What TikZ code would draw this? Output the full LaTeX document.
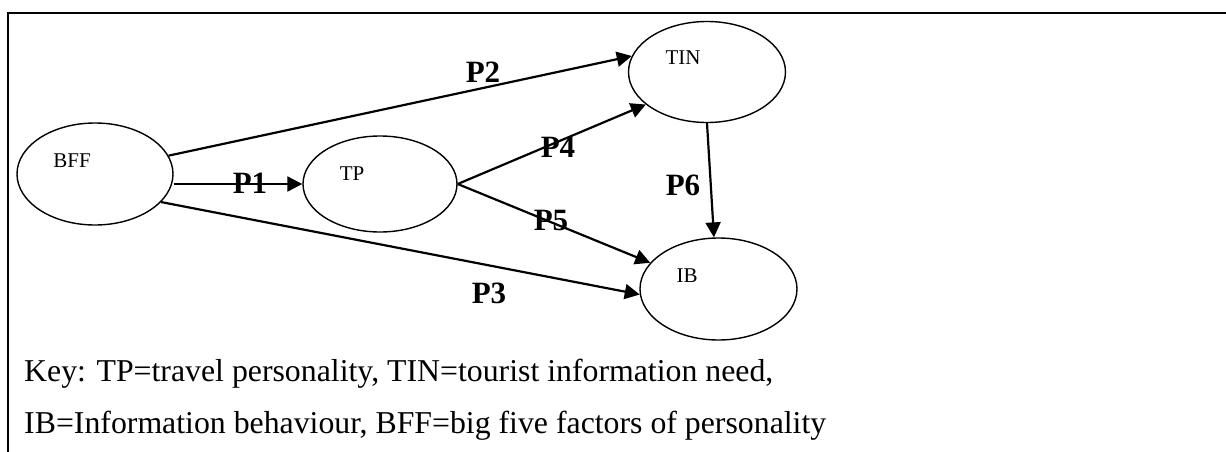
\documentclass[tikz,border=0pt]{standalone}
\usepackage{fontspec}
\setmainfont{Liberation Serif}
\usetikzlibrary{shapes.geometric,arrows.meta}
\begin{document}
\begin{tikzpicture}[x=1pt,y=-1pt,
  construct/.style={ellipse,draw,line width=1.4pt,minimum width=156pt,minimum height=102pt,inner sep=0pt},
  varname/.style={anchor=base,inner sep=0pt,font=\fontsize{21}{24}\selectfont},
  pathlbl/.style={anchor=base,inner sep=0pt,font=\fontsize{31}{36}\selectfont\bfseries},
  keyline/.style={anchor=base west,inner sep=0pt,font=\fontsize{31.8}{38}\selectfont},
  link/.style={line width=2.2pt,-{Triangle[length=15pt,width=15pt]}}]
\useasboundingbox (0,0) rectangle (1226,452);
% frame
\draw[line width=2.2pt] (1226,13) -- (8,13) -- (8,452);
% constructs
\node[construct] (bff) at (95,174) {};
\node[construct,minimum width=154pt,minimum height=96pt] (tp) at (380,184) {};
\node[construct,minimum width=157pt,minimum height=101pt] (tin) at (707,72) {};
\node[construct,minimum width=157pt,minimum height=102pt] (ib) at (718.5,289) {};
\node[varname] (bffname) at (72,167) {BFF};
\node[varname] (tpname) at (352,180) {TP};
\node[varname] (tinname) at (683,65) {TIN};
\node[varname] (ibname) at (687,282) {IB};
% paths
\draw[link] (bff.east |- tp.west) -- (tp.west);
\draw[link] (bff.14) -- (tin.168);
\draw[link] (bff.-23) -- (ib.184);
\draw[link] (tp.east) -- (tin.208);
\draw[link] (tp.east) -- (ib.159);
\draw[link] (tin.south) -- (ib.95);
% path labels
\node[pathlbl] (p1) at (250,193) {P1};
\node[pathlbl] (p2) at (483,82) {P2};
\node[pathlbl] (p3) at (489,303) {P3};
\node[pathlbl] (p4) at (558,157) {P4};
\node[pathlbl] (p5) at (551,230) {P5};
\node[pathlbl] (p6) at (683,195) {P6};
% key
\node[keyline] (key1) at (24,381) {Key: TP=travel personality, TIN=tourist information need,};
\node[keyline] (key2) at (24,433) {IB=Information behaviour, BFF=big five factors of personality};
\end{tikzpicture}
\end{document}
